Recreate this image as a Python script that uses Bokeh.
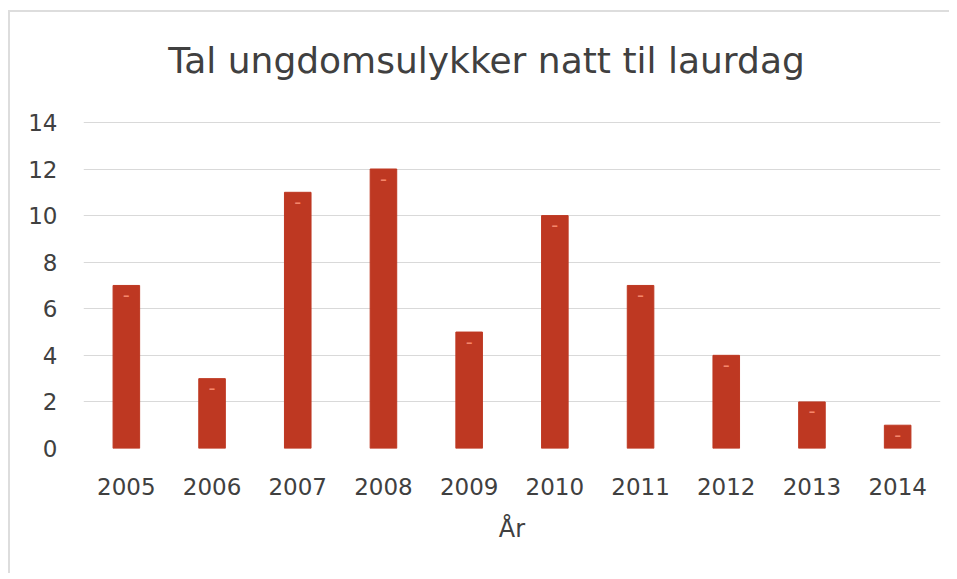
from bokeh.plotting import figure
from bokeh.models import ColumnDataSource, FactorRange, Range1d, FixedTicker, Label
from bokeh.core.properties import value
from bokeh.embed import file_html
from bokeh.resources import INLINE

years = ["2005", "2006", "2007", "2008", "2009", "2010", "2011", "2012", "2013", "2014"]
counts = [7, 3, 11, 12, 5, 10, 7, 4, 2, 1]
y_ticks = [0, 2, 4, 6, 8, 10, 12, 14]
title_text = "Tal ungdomsulykker natt til laurdag"
x_label = "År"

FONT = "DejaVu Sans"
src = ColumnDataSource(dict(x=years, y=counts, mark=["–"] * len(years)))

# the y range extends above 14 to leave room for the title inside the frame
p = figure(width=941, height=563, x_range=FactorRange(*years, range_padding=0),
           y_range=Range1d(0, 18.72), output_backend="svg", toolbar_location=None,
           min_border_left=73, min_border_right=11, min_border_top=0, min_border_bottom=127)

title = Label(x=403, y=388, x_units="screen", y_units="screen", text=title_text,
              text_font=FONT, text_font_size="36px", text_color="#404040",
              text_align="center", text_baseline="middle")
p.add_layout(title)

p.vbar(x="x", top="y", width=0.31, source=src, color="#be3822")
p.text(x="x", y="y", text="mark", source=src, text_color="#f5866a",
       text_font_size="13px", text_font_style="bold", text_align="center",
       text_baseline="middle", y_offset=10, text_font=value(FONT))

p.outline_line_color = None
p.xgrid.grid_line_color = None
p.ygrid.grid_line_color = "#d9d9d9"
p.ygrid.grid_line_width = 1
p.yaxis.ticker = FixedTicker(ticks=y_ticks)
for ax in (p.xaxis, p.yaxis):
    ax.axis_line_color = None
    ax.major_tick_line_color = None
    ax.minor_tick_line_color = None
    ax.major_label_text_font = FONT
    ax.major_label_text_font_size = "23px"
    ax.major_label_text_color = "#404040"
p.yaxis.major_label_standoff = 20
p.xaxis.major_label_standoff = 23
p.xaxis.axis_label = x_label
p.xaxis.axis_label_text_font = FONT
p.xaxis.axis_label_text_font_size = "24px"
p.xaxis.axis_label_text_font_style = "normal"
p.xaxis.axis_label_text_color = "#404040"
p.xaxis.axis_label_standoff = 17
p.styles = {"margin-left": "8px", "margin-top": "10px",
            "border-left": "2px solid #dddddd", "border-top": "2px solid #dddddd"}

open("out.html", "w").write(file_html(p, INLINE))
